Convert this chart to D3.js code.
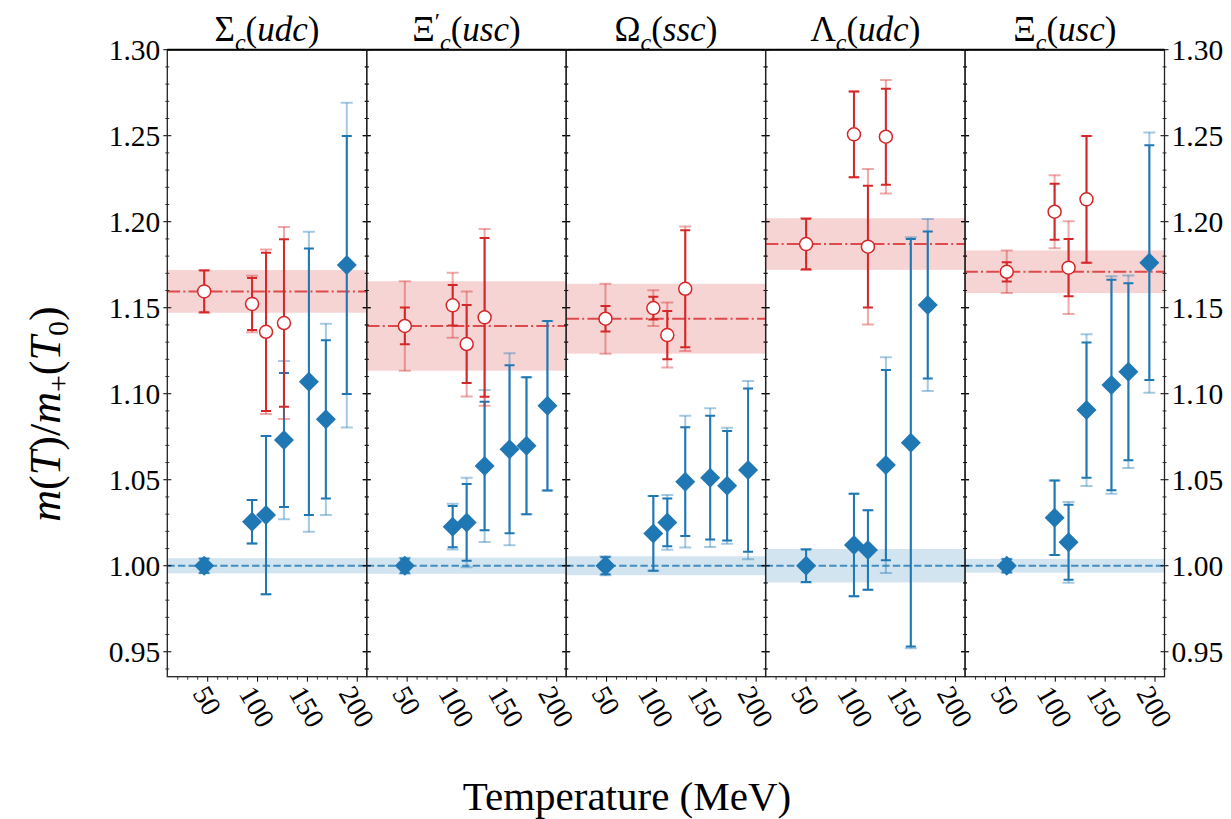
<!DOCTYPE html>
<html>
<head>
<meta charset="utf-8">
<script src="https://cdn.jsdelivr.net/npm/d3@7"></script>
<style>
  body { margin: 0; background: #fff; }
  svg { display: block; font-family: "Liberation Serif", "DejaVu Serif", serif; }
</style>
</head>
<body>
<svg id="chart" width="1231" height="819"></svg>
<script>
// lattice temperatures (MeV), the last point is missing for Lambda_c
const temps = [47, 95, 109, 127, 152, 169, 190];
// small horizontal shift of every point in each panel
const panelShift = [0, 1.2, 2.4, 3.6, 4.8];

const titleBase = ["Σ", "Ξ", "Ω", "Λ", "Ξ"];
const titlePrime = [false, true, false, false, false];
const titleQuarks = ["udc", "usc", "ssc", "udc", "usc"];

// positive parity m_+(T)/m_+(T0): values, inner error, outer error
const plusVal = [
    [1.000, 1.0256, 1.0295, 1.0731, 1.1070, 1.0851, 1.1748],
    [1.000, 1.0227, 1.0252, 1.0580, 1.0677, 1.0698, 1.0930],
    [1.000, 1.0188, 1.0252, 1.0489, 1.0512, 1.0465, 1.0556],
    [1.000, 1.0120, 1.0091, 1.0585, 1.0715, 1.1516],
    [1.000, 1.0279, 1.0136, 1.0905, 1.1051, 1.1128, 1.1762]
];
const plusErr = [
    [0.0040, 0.0126, 0.0460, 0.0390, 0.0775, 0.0460, 0.0750],
    [0.0040, 0.0120, 0.0223, 0.0374, 0.0488, 0.0398, 0.0493],
    [0.0050, 0.0217, 0.0139, 0.0316, 0.0360, 0.0318, 0.0475],
    [0.0095, 0.0298, 0.0231, 0.0553, 0.1185, 0.0427],
    [0.0038, 0.0217, 0.0218, 0.0393, 0.0612, 0.0514, 0.0682]
];
const plusErrTot = [
    [0.0044, 0.0126, 0.0460, 0.0460, 0.0872, 0.0556, 0.0944],
    [0.0047, 0.0133, 0.0260, 0.0442, 0.0558, 0.0398, 0.0493],
    [0.0055, 0.0217, 0.0159, 0.0383, 0.0403, 0.0337, 0.0518],
    [0.0097, 0.0298, 0.0231, 0.0627, 0.1195, 0.0500],
    [0.0040, 0.0217, 0.0235, 0.0441, 0.0632, 0.0560, 0.0756]
];

// negative parity m_-(T)/m_+(T0)
const minusVal = [
    [1.1595, 1.1522, 1.1360, 1.1411],
    [1.1394, 1.1514, 1.1289, 1.1444],
    [1.1436, 1.1498, 1.1341, 1.1610],
    [1.1870, 1.2508, 1.1855, 1.2494],
    [1.1709, 1.2058, 1.1733, 1.2130]
];
const minusErr = [
    [0.0122, 0.0151, 0.0460, 0.0487],
    [0.0107, 0.0118, 0.0227, 0.0461],
    [0.0074, 0.0066, 0.0140, 0.0340],
    [0.0147, 0.0249, 0.0354, 0.0279],
    [0.0056, 0.0163, 0.0166, 0.0368]
];
const minusErrTot = [
    [0.0124, 0.0164, 0.0478, 0.0558],
    [0.0260, 0.0189, 0.0305, 0.0514],
    [0.0203, 0.0104, 0.0189, 0.0362],
    [0.0150, 0.0249, 0.0452, 0.0330],
    [0.0124, 0.0212, 0.0270, 0.0368]
];

const xTicks = [50, 100, 150, 200];
const yTicks = [0.95, 1.00, 1.05, 1.10, 1.15, 1.20, 1.25, 1.30];

// ========== LAYOUT ==========

const blue = "#1f77b4", red = "#d62728";
const plotLeft = 167.3, panelW = 199.44, plotTop = 49.7, plotBottom = 676.7;
const nPanels = 5;

const svg = d3.select("#chart");

const y = d3.scaleLinear().domain([0.9355, 1.30]).range([plotBottom, plotTop]);

function panelX(i) {
    return d3.scaleLinear().domain([10, 210]).range([plotLeft + i * panelW, plotLeft + (i + 1) * panelW]);
}

function drawErrorbars(g, x, vals, errs, color, opacity, capHalf) {
    const d = vals.map((v, k) => ({ t: temps[k], v: v, e: errs[k] }));
    const bars = g.append("g").attr("stroke", color).attr("stroke-opacity", opacity)
        .attr("stroke-width", 2).attr("fill", "none");
    bars.selectAll("line.bar").data(d).enter().append("line")
        .attr("x1", p => x(p.t)).attr("x2", p => x(p.t))
        .attr("y1", p => y(p.v - p.e)).attr("y2", p => y(p.v + p.e));
    bars.selectAll("path.cap").data(d).enter().append("path")
        .attr("d", p => `M${x(p.t) - capHalf},${y(p.v + p.e)}h${2 * capHalf}` +
                        `M${x(p.t) - capHalf},${y(p.v - p.e)}h${2 * capHalf}`);
}

for (let i = 0; i < nPanels; i++) {
    const x0 = panelX(i);
    const x = t => x0(t + panelShift[i]);
    const x1 = plotLeft + i * panelW, x2 = plotLeft + (i + 1) * panelW;

    const g = svg.append("g");
    const clipId = "clip" + i;
    g.append("clipPath").attr("id", clipId).append("rect")
        .attr("x", x1).attr("y", plotTop).attr("width", panelW).attr("height", plotBottom - plotTop);
    const plot = g.append("g").attr("clip-path", `url(#${clipId})`);

    // reference bands from the lowest temperature
    const bandM = minusErrTot[i][0], bandP = plusErrTot[i][0];
    plot.append("rect").attr("x", x1).attr("width", panelW)
        .attr("y", y(minusVal[i][0] + bandM)).attr("height", y(minusVal[i][0] - bandM) - y(minusVal[i][0] + bandM))
        .attr("fill", red).attr("fill-opacity", 0.2);
    plot.append("rect").attr("x", x1).attr("width", panelW)
        .attr("y", y(plusVal[i][0] + bandP)).attr("height", y(plusVal[i][0] - bandP) - y(plusVal[i][0] + bandP))
        .attr("fill", blue).attr("fill-opacity", 0.2);
    plot.append("line").attr("x1", x1).attr("x2", x2)
        .attr("y1", y(minusVal[i][0])).attr("y2", y(minusVal[i][0]))
        .attr("stroke", red).attr("stroke-opacity", 0.8).attr("stroke-width", 2)
        .attr("stroke-dasharray", "12.8,3.2,2,3.2");
    plot.append("line").attr("x1", x1).attr("x2", x2)
        .attr("y1", y(plusVal[i][0])).attr("y2", y(plusVal[i][0]))
        .attr("stroke", blue).attr("stroke-opacity", 0.8).attr("stroke-width", 2)
        .attr("stroke-dasharray", "7.4,3.2");

    // positive parity: diamonds
    drawErrorbars(plot, x, plusVal[i], plusErrTot[i], blue, 0.4, 6);
    drawErrorbars(plot, x, plusVal[i], plusErr[i], blue, 1, 5);
    plot.append("g").selectAll("path").data(plusVal[i]).enter().append("path")
        .attr("d", d3.symbol(d3.symbolSquare, 200))
        .attr("transform", (v, k) => `translate(${x(temps[k])},${y(v)}) rotate(45)`)
        .attr("fill", blue);

    // negative parity: open circles
    drawErrorbars(plot, x, minusVal[i], minusErrTot[i], red, 0.4, 6);
    drawErrorbars(plot, x, minusVal[i], minusErr[i], red, 1, 5);
    plot.append("g").selectAll("circle").data(minusVal[i]).enter().append("circle")
        .attr("cx", (v, k) => x(temps[k])).attr("cy", v => y(v)).attr("r", 6.5)
        .attr("fill", "#fff").attr("stroke", red).attr("stroke-width", 1.5);

    // y ticks on both sides of the panel, in and out
    const yMinor = d3.range(94, 131).map(v => v / 100).filter(v => Math.round(v * 100) % 5 !== 0);
    [x1, x2].forEach(sx => {
        g.append("g").selectAll("line").data(yTicks).enter().append("line")
            .attr("x1", sx - 4).attr("x2", sx + 4).attr("y1", v => y(v)).attr("y2", v => y(v))
            .attr("stroke", "#000").attr("stroke-width", 1);
        g.append("g").selectAll("line").data(yMinor).enter().append("line")
            .attr("x1", sx - 2).attr("x2", sx + 2).attr("y1", v => y(v)).attr("y2", v => y(v))
            .attr("stroke", "#000").attr("stroke-width", 0.8);
    });

    // x axis
    const xAxis = d3.axisBottom(x0).tickValues(xTicks).tickSize(5).tickFormat("");
    const ax = g.append("g").attr("transform", `translate(0,${plotBottom})`).call(xAxis);
    ax.select(".domain").remove();
    ax.selectAll(".tick line").attr("stroke", "#000");
    const minorX = d3.axisBottom(x0).tickValues(d3.range(20, 210, 10).filter(t => t % 50 !== 0))
        .tickSize(3).tickFormat("");
    const axm = g.append("g").attr("transform", `translate(0,${plotBottom})`).call(minorX);
    axm.select(".domain").remove();
    axm.selectAll(".tick line").attr("stroke", "#000").attr("stroke-width", 0.8);

    // rotated tick labels, bounding box centred under the tick
    xTicks.forEach(t => {
        const lab = g.append("text").text(t).attr("font-size", 28)
            .attr("text-anchor", "middle").attr("dominant-baseline", "central");
        const w = lab.node().getComputedTextLength();
        const h = 19;
        const a = Math.PI / 3;
        const cy = plotBottom + 7 + (w * Math.sin(a) + h * Math.cos(a)) / 2;
        lab.attr("transform", `translate(${x0(t)},${cy}) rotate(60)`);
    });

    // frame
    g.append("rect").attr("x", x1).attr("y", plotTop).attr("width", panelW).attr("height", plotBottom - plotTop)
        .attr("fill", "none").attr("stroke", "#222").attr("stroke-width", 1.3);
    g.append("line").attr("x1", x1).attr("x2", x2).attr("y1", plotTop).attr("y2", plotTop)
        .attr("stroke", "#000").attr("stroke-width", 2);

    // title
    const title = g.append("text").attr("x", (x1 + x2) / 2).attr("y", 41)
        .attr("text-anchor", "middle").attr("font-size", 35);
    title.append("tspan").text(titleBase[i]);
    if (titlePrime[i]) {
        title.append("tspan").attr("dy", -12).attr("font-size", 24).text("′");
        title.append("tspan").attr("dy", 21).attr("font-size", 24)
            .attr("font-style", "italic").text("c");
        title.append("tspan").attr("dy", -9).text("(");
    } else {
        title.append("tspan").attr("dy", 9).attr("font-size", 24).attr("font-style", "italic").text("c");
        title.append("tspan").attr("dy", -9).text("(");
    }
    title.append("tspan").attr("font-style", "italic").text(titleQuarks[i]);
    title.append("tspan").text(")");
}

// y tick labels, left of first panel and right of last panel
yTicks.forEach(v => {
    svg.append("text").attr("x", plotLeft - 7).attr("y", y(v)).attr("dy", "0.35em")
        .attr("text-anchor", "end").attr("font-size", 29.5).text(v.toFixed(2));
    svg.append("text").attr("x", plotLeft + nPanels * panelW + 7).attr("y", y(v)).attr("dy", "0.35em")
        .attr("text-anchor", "start").attr("font-size", 29.5).text(v.toFixed(2));
});

// axis titles
svg.append("text").attr("x", 627).attr("y", 810).attr("text-anchor", "middle")
    .attr("font-size", 41).text("Temperature (MeV)");

const yl = svg.append("text").attr("transform", `translate(60,414) rotate(-90)`)
    .attr("text-anchor", "middle").attr("font-size", 44);
yl.append("tspan").attr("font-style", "italic").text("m");
yl.append("tspan").text("(");
yl.append("tspan").attr("font-style", "italic").text("T");
yl.append("tspan").text(")/");
yl.append("tspan").attr("font-style", "italic").text("m");
yl.append("tspan").attr("font-size", 30).attr("dy", 8).text("+");
yl.append("tspan").attr("dy", -8).text("(");
yl.append("tspan").attr("font-style", "italic").text("T");
yl.append("tspan").attr("font-size", 30).attr("dy", 8).text("0");
yl.append("tspan").attr("dy", -8).text(")");
</script>
</body>
</html>
